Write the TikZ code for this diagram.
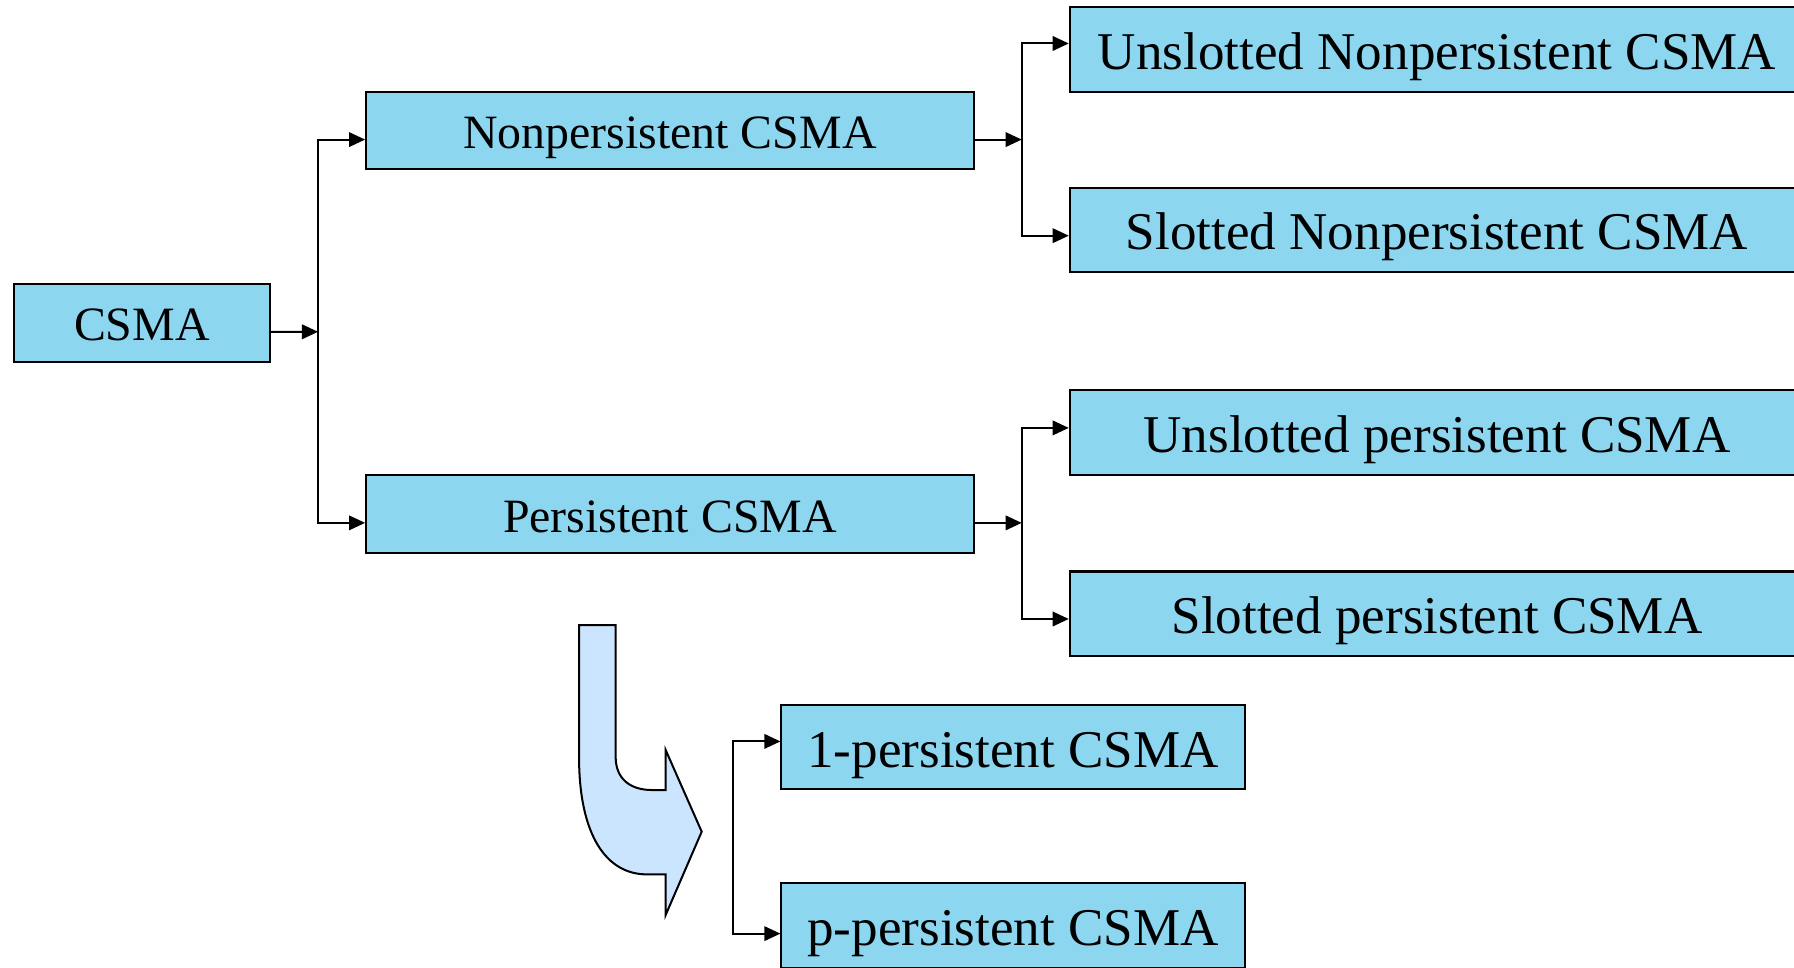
\documentclass[tikz,border=0pt]{standalone}
\usepackage{fontspec}
\setmainfont{Liberation Serif}
\usepackage{tikz}
\usetikzlibrary{arrows.meta}
\definecolor{boxblue}{RGB}{141,214,240}
\definecolor{bendblue}{RGB}{204,229,255}
\tikzset{>={Triangle[length=4pt,width=3.6pt]}}
\tikzset{box/.style={draw, fill=boxblue, line width=0.5pt, inner sep=0pt, text depth=0pt},
         midbox/.style={box, minimum height=0.68cm, text height=9.1pt, font=\fontsize{11.9}{14}\selectfont},
         leafbox/.style={box, minimum height=0.74cm, text height=9.9pt, font=\fontsize{13.2}{16}\selectfont}}

\begin{document}
\begin{tikzpicture}[line width=0.5pt]
      \useasboundingbox (0,0) rectangle (15.68,-8.46);

      % first level
      \node (csma) at (1.24,-2.82) [midbox, minimum width=2.24cm] {CSMA};
	  \node (nonp) at (5.855,-1.14) [midbox, minimum width=5.31cm] {Nonpersistent CSMA};
	  \node (pers) at (5.855,-4.49) [midbox, minimum width=5.31cm] {Persistent CSMA};
      \coordinate (f1) at (2.78,-2.90);
      \draw[->] ([yshift=-0.08cm]csma.east) -- (f1);
      \draw[->] (f1) |- ([yshift=-0.08cm]nonp.west);
      \draw[->] (f1) |- ([yshift=-0.08cm]pers.west);

      % nonpersistent
	  \node (unnp) at (12.56,-0.43) [leafbox, minimum width=6.42cm] {Unslotted Nonpersistent CSMA};
	  \node (slnp) at (12.56,-2.01) [leafbox, minimum width=6.42cm] {Slotted Nonpersistent CSMA};
      \coordinate (f2) at (8.93,-1.22);
      \draw[->] (nonp.east |- f2) -- (f2);
      \draw[->] (f2) |- ([yshift=0.05cm]unnp.west);
      \draw[->] (f2) |- ([yshift=-0.05cm]slnp.west);

      % persistent
	  \node (unp) at (12.56,-3.78) [leafbox, minimum width=6.42cm] {Unslotted persistent CSMA};
	  \node (slp) at (12.56,-5.365) [leafbox, minimum width=6.42cm] {Slotted persistent CSMA};
      \coordinate (f3) at (8.93,-4.57);
      \draw[->] (pers.east |- f3) -- (f3);
      \draw[->] (f3) |- ([yshift=0.04cm]unp.west);
      \draw[->] (f3) |- ([yshift=-0.045cm]slp.west);

      % bent arrow
      \draw[fill=bendblue] (5.061,-5.463) -- (5.381,-5.463) -- (5.381,-6.616)
            .. controls (5.381,-6.80) and (5.50,-6.905) .. (5.70,-6.905)
            -- (5.818,-6.905) -- (5.818,-6.555) -- (6.133,-7.269) -- (5.818,-7.997)
            -- (5.818,-7.642) -- (5.652,-7.642)
            .. controls (5.30,-7.642) and (5.061,-7.30) .. (5.061,-6.616) -- cycle;

      % 1- and p-persistent
	  \node (onep) at (8.855,-6.53) [leafbox, minimum width=4.05cm] {1-persistent CSMA};
	  \node (pp) at (8.855,-8.09) [leafbox, minimum width=4.05cm] {p-persistent CSMA};
      \coordinate (f4) at (6.41,-7.32);
      \draw[->] (f4) |- ([yshift=0.05cm]onep.west);
      \draw[->] (f4) |- ([yshift=-0.07cm]pp.west);

\end{tikzpicture}
\end{document}
